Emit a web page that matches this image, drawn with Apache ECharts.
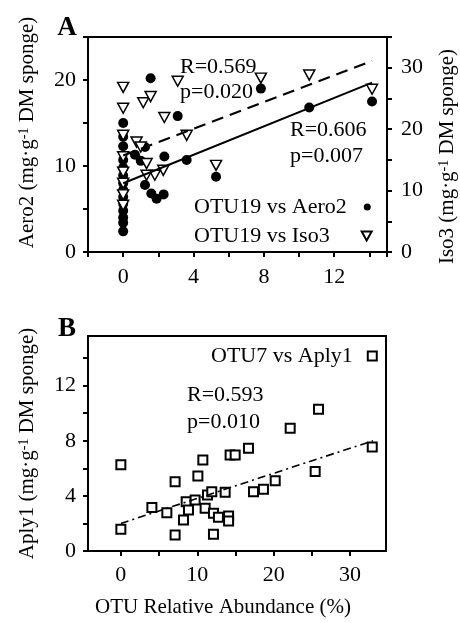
<!DOCTYPE html>
<html><head><meta charset="utf-8">
<script src="https://cdn.jsdelivr.net/npm/echarts@6/dist/echarts.min.js"></script>
<style>html,body{margin:0;padding:0;background:#fff}#c{width:460px;height:623px}</style>
</head><body><div id="c"></div>
<script>
const FONT = '"Liberation Serif","Times New Roman",serif';

// ---- Panel A data: OTU19 relative abundance vs Aero2 (left axis) and Iso3 (right axis)
const aero2X = [0,0,0,0,0,0,0,0,0,0,0,0,0,0,0.67,1.0,1.24,1.56,3.1,7.83,10.58,14.15,3.61,2.34,5.28,1.24,1.6,1.9,2.3];
const aero2Y = [15.0,13.4,12.3,10.7,9.8,8.9,8.0,7.2,6.4,5.6,4.8,4.0,3.4,2.4,11.3,10.6,12.2,20.2,15.8,19.0,16.8,17.5,10.7,11.1,8.75,7.8,6.8,6.2,6.7];
const iso3X = [0,0,0,0,0,0,0,0,1.14,1.56,3.1,2.34,7.83,10.58,14.15,3.61,5.28,0.76,1.0,1.33,2.28,1.8,1.33];
const iso3Y = [26.8,23.4,19.0,15.5,13.0,11.2,9.3,7.6,24.3,25.3,27.8,21.9,28.3,28.8,26.5,19.0,14.1,17.9,17.1,14.4,13.3,12.5,12.5];
const aero2FitX = [0, 14.15];
const aero2FitY = [8.0, 19.7];
const iso3FitX = [0, 14.15];
const iso3FitY = [15.7, 31.1];
const xLabelsA = [0, 4, 8, 12];
const yLeftLabelsA = [0, 10, 20];
const yRightLabelsA = [0, 10, 20, 30];

// ---- Panel B data: OTU7 relative abundance vs Aply1
const aply1X = [0,0,4.06,6.02,7.1,7.1,8.2,8.55,8.85,9.72,10.08,10.73,11.03,11.34,11.9,12.12,12.77,12.12,13.65,14.1,14.1,14.3,14.96,16.7,17.36,18.66,20.2,25.43,25.87,22.16,32.9];
const aply1Y = [6.25,1.58,3.15,2.78,5.03,1.16,2.25,3.58,2.98,3.7,5.45,6.6,3.1,4.07,4.3,2.74,2.45,1.21,4.26,2.54,2.18,6.97,6.97,7.45,4.3,4.48,5.1,5.76,10.29,8.9,7.55];
const aply1FitX = [0, 33];
const aply1FitY = [2.0, 8.0];
const xTicksB = [0, 5, 10, 15, 20, 25, 30];
const xLabelsB = [0, 10, 20, 30];
const yTicksB = [0, 2, 4, 6, 8, 10, 12, 14];
const yLabelsB = [0, 4, 8, 12];

const zip = (xs, ys) => xs.map((x, i) => [x, ys[i]]);
const black = '#000';
const axisLineStyle = { lineStyle: { color: black, width: 2 } };
const tickStyle = { length: 5, inside: false, lineStyle: { color: black, width: 2 } };
const labelStyle = { fontSize: 22, fontFamily: FONT, color: black };
const nameStyle = (pad) => ({
  fontSize: 21, fontFamily: FONT, color: black, padding: pad,
  rich: { sup: { fontSize: 14, fontFamily: FONT, color: black, verticalAlign: 'top' } }
});
const legendText = (padRight) => ({
  fontSize: 22, fontFamily: FONT, color: black, padding: [0, padRight, 0, 0]
});
const triPath = 'path://M0,0L20,0L10,18Z';

const chart = echarts.init(document.getElementById('c'), null, { renderer: 'canvas' });
chart.setOption({
  animation: false,
  backgroundColor: '#fff',
  grid: [
    { left: 88, top: 37, right: 73, bottom: 371, show: true, borderColor: black, borderWidth: 2, containLabel: false, outerBoundsMode: 'none' },
    { left: 88, top: 336, right: 74, bottom: 72, show: true, borderColor: black, borderWidth: 2, containLabel: false, outerBoundsMode: 'none' }
  ],
  xAxis: [
    { gridIndex: 0, type: 'value', min: -2, max: 15, interval: 2,
      axisLine: Object.assign({ onZero: false }, axisLineStyle), axisTick: tickStyle, splitLine: { show: false },
      axisLabel: Object.assign({ margin: 14, formatter: v => xLabelsA.includes(v) ? String(v) : '' }, labelStyle) },
    { gridIndex: 1, type: 'value', min: -4.3, max: 34.7,
      axisLine: Object.assign({ onZero: false }, axisLineStyle),
      axisTick: Object.assign({ customValues: xTicksB }, tickStyle), splitLine: { show: false },
      axisLabel: Object.assign({ margin: 13, customValues: xLabelsB }, labelStyle),
      name: 'OTU Relative Abundance (%)', nameLocation: 'middle', nameGap: 46, nameMoveOverlap: false,
      nameTextStyle: { fontSize: 21, fontFamily: FONT, color: black, padding: [0, 28, 0, 0] } }
  ],
  yAxis: [
    { gridIndex: 0, type: 'value', min: 0, max: 25, interval: 5,
      axisLine: Object.assign({ onZero: false }, axisLineStyle), axisTick: tickStyle, splitLine: { show: false },
      axisLabel: Object.assign({ margin: 12, formatter: v => yLeftLabelsA.includes(v) ? String(v) : '' }, labelStyle),
      name: 'Aero2 (mg·g{sup|-1} DM sponge)', nameLocation: 'middle', nameRotate: 90, nameGap: 50, nameMoveOverlap: false,
      nameTextStyle: nameStyle([0, 0, 0, 24]) },
    { gridIndex: 0, type: 'value', position: 'right', min: 0, max: 35, interval: 5,
      axisLine: Object.assign({ onZero: false }, axisLineStyle), axisTick: tickStyle, splitLine: { show: false },
      axisLabel: Object.assign({ margin: 14, formatter: v => yRightLabelsA.includes(v) ? String(v) : '' }, labelStyle),
      name: 'Iso3 (mg·g{sup|-1} DM sponge)', nameLocation: 'middle', nameRotate: 90, nameGap: 50, nameMoveOverlap: false,
      nameTextStyle: nameStyle([0, 24, 0, 0]) },
    { gridIndex: 1, type: 'value', min: 0, max: 15.6,
      axisLine: Object.assign({ onZero: false }, axisLineStyle),
      axisTick: Object.assign({ customValues: yTicksB }, tickStyle), splitLine: { show: false },
      axisLabel: Object.assign({ margin: 12, customValues: yLabelsB }, labelStyle),
      name: 'Aply1 (mg·g{sup|-1} DM sponge)', nameLocation: 'middle', nameRotate: 90, nameGap: 50, nameMoveOverlap: false,
      nameTextStyle: nameStyle([0, 0, 0, 0]) }
  ],
  legend: [
    { data: ['OTU19 vs Aero2'], left: 194, top: 196, padding: 0, align: 'right', itemWidth: 7, itemHeight: 7,
      selectedMode: false, textStyle: legendText(12) },
    { data: ['OTU19 vs Iso3'], left: 194, top: 225, padding: 0, align: 'right', itemWidth: 10, itemHeight: 9,
      selectedMode: false, textStyle: legendText(27) },
    { data: ['OTU7 vs Aply1'], left: 211, top: 345, padding: 0, align: 'right', itemWidth: 9, itemHeight: 9,
      selectedMode: false, textStyle: legendText(10) }
  ],
  graphic: [
    { type: 'text', x: 67, y: 28, style: { text: 'A', fontSize: 27, fontWeight: 'bold', fontFamily: FONT, fill: black, align: 'center', verticalAlign: 'middle' } },
    { type: 'text', x: 67, y: 329, style: { text: 'B', fontSize: 27, fontWeight: 'bold', fontFamily: FONT, fill: black, align: 'center', verticalAlign: 'middle' } },
    { type: 'text', x: 180, y: 67, style: { text: 'R=0.569', fontSize: 22, fontFamily: FONT, fill: black, verticalAlign: 'middle' } },
    { type: 'text', x: 180, y: 92, style: { text: 'p=0.020', fontSize: 22, fontFamily: FONT, fill: black, verticalAlign: 'middle' } },
    { type: 'text', x: 290, y: 130, style: { text: 'R=0.606', fontSize: 22, fontFamily: FONT, fill: black, verticalAlign: 'middle' } },
    { type: 'text', x: 290, y: 156, style: { text: 'p=0.007', fontSize: 22, fontFamily: FONT, fill: black, verticalAlign: 'middle' } },
    { type: 'text', x: 187, y: 395, style: { text: 'R=0.593', fontSize: 22, fontFamily: FONT, fill: black, verticalAlign: 'middle' } },
    { type: 'text', x: 187, y: 422, style: { text: 'p=0.010', fontSize: 22, fontFamily: FONT, fill: black, verticalAlign: 'middle' } }
  ],
  series: [
    { name: 'fitAero2', type: 'line', xAxisIndex: 0, yAxisIndex: 0, data: zip(aero2FitX, aero2FitY),
      showSymbol: false, silent: true, lineStyle: { color: black, width: 2, type: 'solid' } },
    { name: 'fitIso3', type: 'line', xAxisIndex: 0, yAxisIndex: 1, data: zip(iso3FitX, iso3FitY),
      showSymbol: false, silent: true, lineStyle: { color: black, width: 2, type: [12, 7] } },
    { name: 'OTU19 vs Aero2', type: 'scatter', xAxisIndex: 0, yAxisIndex: 0, data: zip(aero2X, aero2Y),
      symbol: 'circle', symbolSize: 10, itemStyle: { color: black, opacity: 1 } },
    { name: 'OTU19 vs Iso3', type: 'scatter', xAxisIndex: 0, yAxisIndex: 1, data: zip(iso3X, iso3Y),
      symbol: triPath, symbolSize: [11, 10], itemStyle: { color: '#fff', borderColor: black, borderWidth: 1.5, opacity: 1 } },
    { name: 'fitAply1', type: 'line', xAxisIndex: 1, yAxisIndex: 2, data: zip(aply1FitX, aply1FitY),
      showSymbol: false, silent: true, lineStyle: { color: black, width: 1.6, type: [8, 4, 2, 4] } },
    { name: 'OTU7 vs Aply1', type: 'scatter', xAxisIndex: 1, yAxisIndex: 2, data: zip(aply1X, aply1Y),
      symbol: 'rect', symbolSize: 9, itemStyle: { color: '#fff', borderColor: black, borderWidth: 2, opacity: 1 } }
  ]
});
</script></body></html>
